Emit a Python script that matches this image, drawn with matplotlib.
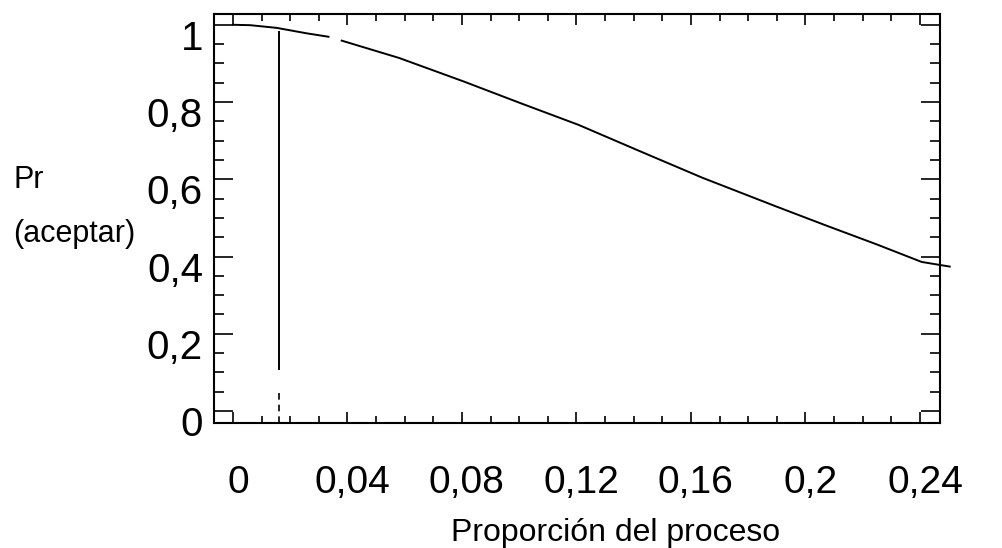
import numpy as np
import matplotlib
matplotlib.use("Agg")
import matplotlib.pyplot as plt
from matplotlib.ticker import MultipleLocator
from matplotlib.transforms import ScaledTranslation

plt.rcParams['font.family'] = ['Liberation Sans', 'DejaVu Sans']

# curva OC (NaN = hueco en la linea original)
p = [0.0, 0.006, 0.0153, 0.0257, 0.0334, np.nan, 0.038, 0.0581, 0.0807,
     0.1005, 0.1207, 0.1424, 0.164, 0.19, 0.2077, 0.2247, 0.2406, 0.2504]
pa = [1.0, 0.999, 0.992, 0.978, 0.969, np.nan, 0.959, 0.914, 0.853,
      0.797, 0.741, 0.672, 0.604, 0.529, 0.479, 0.432, 0.386, 0.374]

# linea vertical (AQL)
aql = 0.016
aql_solid = (0.106, 0.985)
aql_dash = (-0.03, 0.05)

xticks = [0, 0.04, 0.08, 0.12, 0.16, 0.2, 0.24]
xlabels = ['0', '0,04', '0,08', '0,12', '0,16', '0,2', '0,24']
yticks = [0, 0.2, 0.4, 0.6, 0.8, 1.0]
ylabels = ['0', '0,2', '0,4', '0,6', '0,8', '1']

fig = plt.figure(figsize=(10.02, 5.48), dpi=100)
ax = fig.add_axes([0.2136, 0.2281, 0.7245, 0.7464])

ax.plot(p, pa, color='black', lw=1.4, clip_on=False)
ax.vlines(aql, aql_solid[0], aql_solid[1], color='black', lw=1.4)
ax.vlines(aql, aql_dash[0], aql_dash[1], color='black', lw=1.2,
          linestyles=(0, (4, 3)))

ax.set_xlim(-0.0066, 0.247)
ax.set_ylim(-0.031, 1.028)

ax.set_xticks(xticks)
ax.set_xticklabels(xlabels, fontsize=28)
ax.set_yticks(yticks)
ax.set_yticklabels(ylabels, fontsize=29)
ax.xaxis.set_minor_locator(MultipleLocator(0.01))
ax.yaxis.set_minor_locator(MultipleLocator(0.05))

ax.tick_params(axis='both', which='both', direction='in', top=True, right=True,
               width=1.2, color='black')
ax.tick_params(axis='x', which='major', length=8, pad=30)
ax.tick_params(axis='x', which='minor', length=5)
ax.tick_params(axis='y', which='major', length=14, pad=8)
ax.tick_params(axis='y', which='minor', length=7)

# las etiquetas aparecen algo desplazadas respecto a las marcas
yoff = ScaledTranslation(0, -0.10, fig.dpi_scale_trans)
for lab in ax.get_yticklabels():
    lab.set_transform(lab.get_transform() + yoff)
xoff = ScaledTranslation(0.05, 0, fig.dpi_scale_trans)
for lab in ax.get_xticklabels():
    lab.set_transform(lab.get_transform() + xoff)

for s in ax.spines.values():
    s.set_linewidth(1.5)

fig.text(13 / 1002, 1 - 180 / 548, 'Pr', fontsize=22, va='center', ha='left')
fig.text(13 / 1002, 1 - 234 / 548, '(aceptar)', fontsize=22, va='center', ha='left')
fig.text(616 / 1002, 1 - 533 / 548, 'Proporción del proceso', fontsize=23,
         va='center', ha='center')

fig.savefig('out.png', dpi=100)
